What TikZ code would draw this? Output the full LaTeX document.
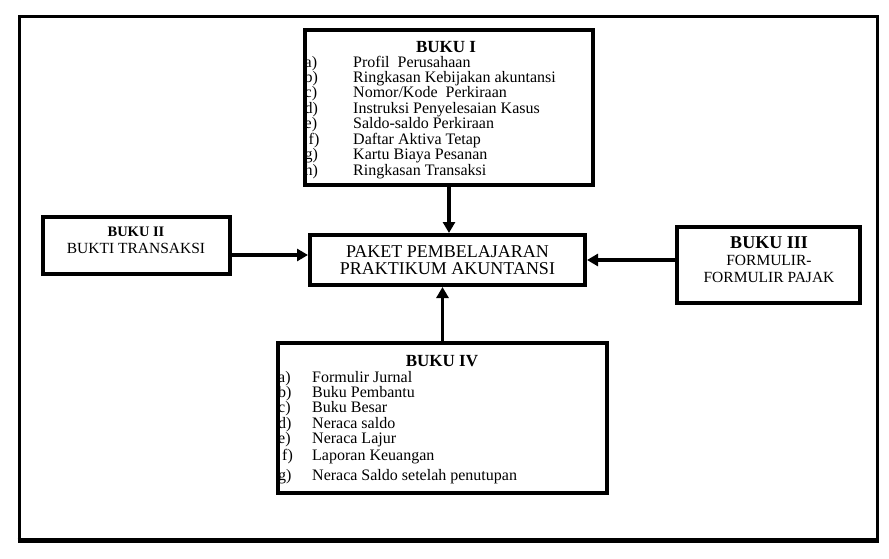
\documentclass[tikz,border=0pt]{standalone}
\usepackage{fontspec}
\setmainfont{Liberation Serif}
\usetikzlibrary{arrows.meta,positioning}

\begin{document}
\begin{tikzpicture}[x=1pt, y=-1pt, line join=miter, >={Triangle[length=11pt,width=12pt]}]
\tikzset{box/.style={draw, line width=4pt, inner sep=0pt},
  link/.style={->, line width=3.5pt},
  head/.style={font=\fontsize{17}{18}\selectfont\bfseries, inner sep=0pt},
  entry/.style={anchor=west, font=\fontsize{16}{16}\selectfont, inner sep=0pt, text height=13pt, text depth=2pt},
  plain/.style={font=\fontsize{15.5}{17}\selectfont, align=center, inner sep=0pt}}
\useasboundingbox (0,0) rectangle (889,559);

% outer frame
\draw[line width=3pt] (19,17) rectangle (877,539);
\draw[line width=5pt] (17.5,540) -- (878.5,540);

% book I contents
\node[head] (b1head) at (446,47) {BUKU I};
\foreach \y/\lab/\txt [count=\i] in {62/a)/{Profil\ \ Perusahaan}, 77/b)/{Ringkasan Kebijakan akuntansi},
    92/c)/{Nomor/Kode\ \ Perkiraan}, 108/d)/{Instruksi Penyelesaian Kasus}, 123/e)/{Saldo-saldo Perkiraan},
    139/\ f)/{Daftar Aktiva Tetap}, 154/g)/{Kartu Biaya Pesanan}, 170/h)/{Ringkasan Transaksi}}{
  \node[entry] (b1lab\i) at (304.5,\y) {\lab};
  \node[entry] (b1txt\i) at (353,\y) {\txt};
}

% book IV contents
\node[head] (b4head) at (442,361) {BUKU IV};
\foreach \y/\lab/\txt [count=\i] in {377/a)/{Formulir Jurnal}, 392/b)/{Buku Pembantu}, 407/c)/{Buku Besar},
    423/d)/{Neraca saldo}, 438/e)/{Neraca Lajur}, 455/\ f)/{Laporan Keuangan}, 475/g)/{Neraca Saldo setelah penutupan}}{
  \node[entry] (b4lab\i) at (278,\y) {\lab};
  \node[entry] (b4txt\i) at (312,\y) {\txt};
}

% boxes
\node[box, minimum width=288pt, minimum height=155pt] (buku1) at (449,107.5) {};
\node[box, minimum width=329pt, minimum height=150pt] (buku4) at (442.5,418) {};
\node[box, minimum width=187pt, minimum height=57pt] (buku2) at (136.5,245.5) {};
\node[box, minimum width=183pt, minimum height=76pt] (buku3) at (768.5,265) {};
\node[box, minimum width=275pt, minimum height=50pt, font=\fontsize{18}{17}\selectfont, align=center] (paket) at (447.5,260)
  {PAKET PEMBELAJARAN\\PRAKTIKUM AKUNTANSI};

% side texts
\node[plain] (b2txt) at (136,240.5) {{\fontsize{14.5}{15}\selectfont\bfseries BUKU II}\\BUKTI TRANSAKSI};
\node[plain] (b3txt) at (769,260) {{\fontsize{18}{17}\selectfont\bfseries BUKU III}\\FORMULIR-\\FORMULIR PAJAK};

% arrows
\draw[link] (buku1.south) -- (buku1.south |- paket.north);
\draw[link] (buku4.north) -- (buku4.north |- paket.south);
\draw[link] ([yshift=-9.5pt]buku2.east) -- ([yshift=-9.5pt]buku2.east -| paket.west);
\draw[link] (buku3.west |- paket.east) -- (paket.east);
\end{tikzpicture}
\end{document}
